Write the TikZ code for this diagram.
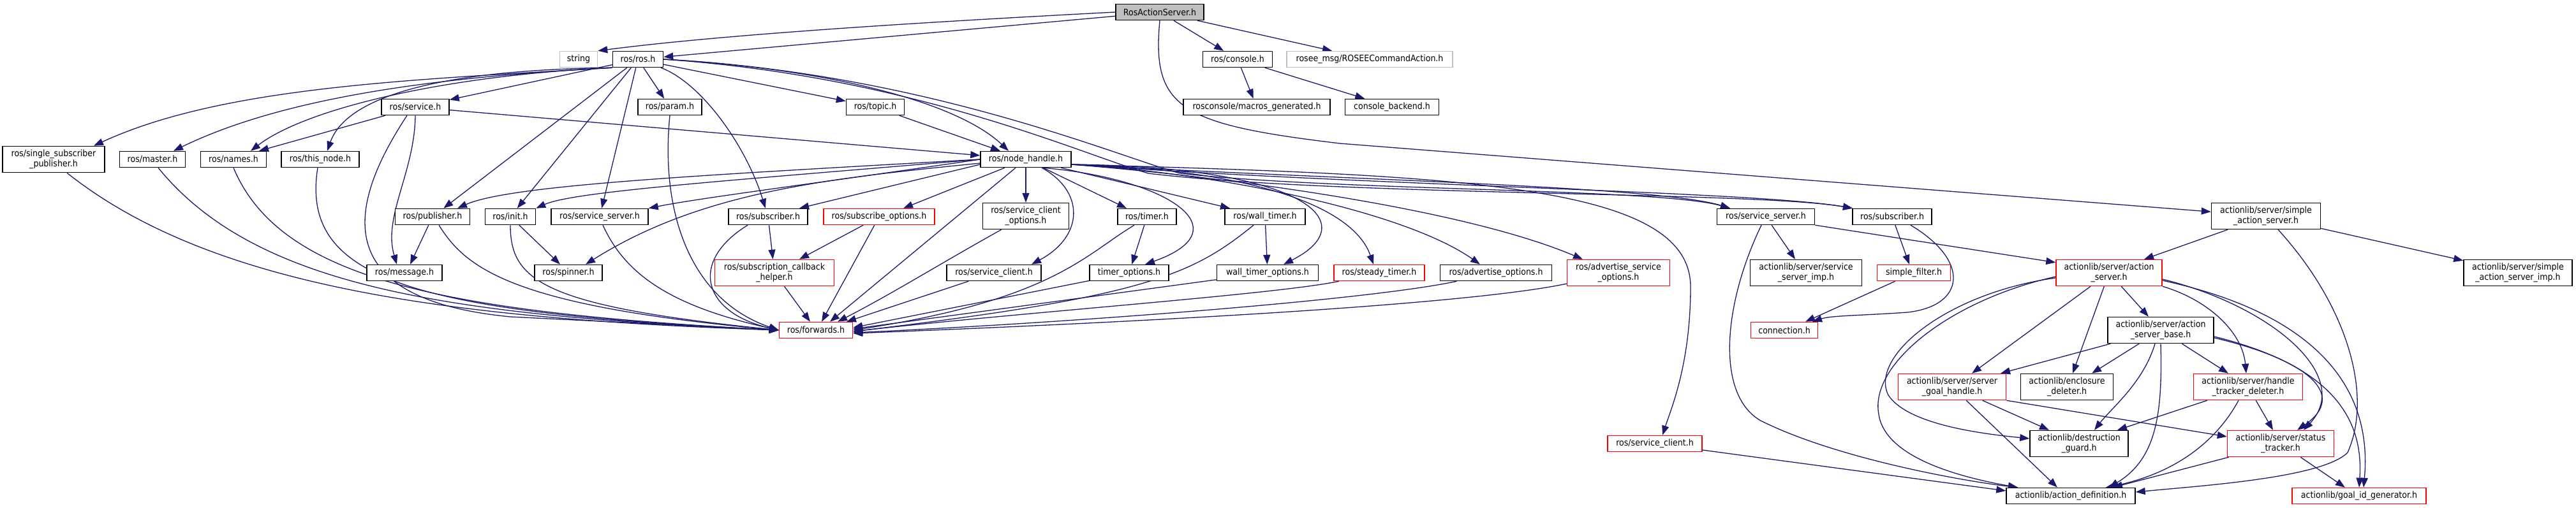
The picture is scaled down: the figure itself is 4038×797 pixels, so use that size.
\documentclass[tikz,border=0pt]{standalone}
\usepackage{fontspec}
\setmainfont{DejaVu Sans}[FakeStretch=0.9]
\usetikzlibrary{arrows.meta}
\pgfdeclarelayer{bg}
\pgfdeclarelayer{edges}
\pgfsetlayers{bg,edges,main}
\definecolor{edgec}{HTML}{191970}
\definecolor{truncc}{HTML}{FF0000}
\definecolor{extc}{HTML}{BFBFBF}
\definecolor{rootfill}{HTML}{BFBFBF}
\begin{document}
\begin{tikzpicture}[x=1pt,y=-1pt,
  nbox/.style={draw=black, line width=1.5pt, fill=white, minimum height=25pt, inner xsep=2pt, inner ysep=0pt, font=\fontsize{14}{15.5}\selectfont, align=center},
  twoline/.style={minimum height=41pt},
  trunc/.style={draw=truncc},
  ext/.style={draw=extc},
  rootbox/.style={fill=rootfill},
  arr/.style={draw=edgec, line width=1.3pt, -{Triangle[length=15pt,width=11pt]}}
]
\begin{pgfonlayer}{bg}
\fill[white] (0,0) rectangle (4038,797);
\end{pgfonlayer}
\useasboundingbox (0,0) rectangle (4038,797);

% nodes
\node[nbox, rootbox, minimum width=138pt] (ras) at (1818,19) {RosActionServer.h};
\node[nbox, ext, minimum width=59pt] (string) at (907,93) {string};
\node[nbox, minimum width=79pt] (rosh) at (1000,93) {ros/ros.h};
\node[nbox, minimum width=109pt] (console) at (1940,93) {ros/console.h};
\node[nbox, ext, minimum width=260pt] (rosee) at (2147,93) {rosee\_msg/ROSEECommandAction.h};
\node[nbox, minimum width=106pt] (service) at (651,168) {ros/service.h};
\node[nbox, minimum width=100pt] (param) at (1050,168) {ros/param.h};
\node[nbox, minimum width=91pt] (topic) at (1372,168) {ros/topic.h};
\node[nbox, minimum width=230pt] (macros) at (1970,168) {rosconsole/macros\_generated.h};
\node[nbox, minimum width=147pt] (backend) at (2182,168) {console\_backend.h};
\node[nbox, twoline, minimum width=160pt] (ssp) at (84,250) {ros/single\_subscriber\\\_publisher.h};
\node[nbox, minimum width=103pt] (master) at (239,250) {ros/master.h};
\node[nbox, minimum width=103pt] (names) at (366,250) {ros/names.h};
\node[nbox, minimum width=122pt] (thisnode) at (502,250) {ros/this\_node.h};
\node[nbox, minimum width=142pt] (nh) at (1608,250) {ros/node\_handle.h};
\node[nbox, minimum width=117pt] (pub) at (678,340) {ros/publisher.h};
\node[nbox, minimum width=79pt] (init) at (800,340) {ros/init.h};
\node[nbox, minimum width=152pt] (ss1) at (940,340) {ros/service\_server.h};
\node[nbox, minimum width=124pt] (sub1) at (1204,340) {ros/subscriber.h};
\node[nbox, trunc, minimum width=174pt] (subopt) at (1378,340) {ros/subscribe\_options.h};
\node[nbox, twoline, minimum width=135pt] (sco) at (1608,339) {ros/service\_client\\\_options.h};
\node[nbox, minimum width=92pt] (timer) at (1798,340) {ros/timer.h};
\node[nbox, minimum width=126pt] (walltimer) at (1983,340) {ros/wall\_timer.h};
\node[nbox, minimum width=153pt] (ss2) at (2768,340) {ros/service\_server.h};
\node[nbox, minimum width=124pt] (sub2) at (2966,340) {ros/subscriber.h};
\node[nbox, twoline, minimum width=171pt] (sas) at (3552,339) {actionlib/server/simple\\\_action\_server.h};
\node[nbox, minimum width=118pt] (message) at (634,428) {ros/message.h};
\node[nbox, minimum width=106pt] (spinner) at (891,428) {ros/spinner.h};
\node[nbox, trunc, twoline, minimum width=187pt] (sch) at (1214,428) {ros/subscription\_callback\\\_helper.h};
\node[nbox, minimum width=148pt] (sc1) at (1558,428) {ros/service\_client.h};
\node[nbox, minimum width=124pt] (timeropt) at (1770,428) {timer\_options.h};
\node[nbox, minimum width=159pt] (walltimeropt) at (1987,428) {wall\_timer\_options.h};
\node[nbox, trunc, minimum width=142pt] (steady) at (2162,428) {ros/steady\_timer.h};
\node[nbox, minimum width=175pt] (advopt) at (2345,428) {ros/advertise\_options.h};
\node[nbox, trunc, twoline, minimum width=161pt] (advsrvopt) at (2537,428) {ros/advertise\_service\\\_options.h};
\node[nbox, twoline, minimum width=175pt] (ssimp) at (2831,428) {actionlib/server/service\\\_server\_imp.h};
\node[nbox, trunc, minimum width=115pt] (sfilter) at (3000,428) {simple\_filter.h};
\node[nbox, trunc, twoline, minimum width=166pt] (as) at (3306,428) {actionlib/server/action\\\_server.h};
\node[nbox, twoline, minimum width=170pt] (sasimp) at (3947,428) {actionlib/server/simple\\\_action\_server\_imp.h};
\node[nbox, trunc, minimum width=115pt] (fwd) at (1279,518) {ros/forwards.h};
\node[nbox, trunc, minimum width=105pt] (conn) at (2797,518) {connection.h};
\node[nbox, twoline, minimum width=166pt] (asb) at (3387,518) {actionlib/server/action\\\_server\_base.h};
\node[nbox, trunc, twoline, minimum width=169pt] (sgh) at (3060,607) {actionlib/server/server\\\_goal\_handle.h};
\node[nbox, twoline, minimum width=145pt] (encl) at (3240,607) {actionlib/enclosure\\\_deleter.h};
\node[nbox, trunc, twoline, minimum width=171pt] (htd) at (3524,607) {actionlib/server/handle\\\_tracker\_deleter.h};
\node[nbox, trunc, minimum width=148pt] (sc2) at (2594,696) {ros/service\_client.h};
\node[nbox, twoline, minimum width=154pt] (dguard) at (3259,696) {actionlib/destruction\\\_guard.h};
\node[nbox, trunc, twoline, minimum width=167pt] (stt) at (3575,696) {actionlib/server/status\\\_tracker.h};
\node[nbox, minimum width=202pt] (adef) at (3246,778) {actionlib/action\_definition.h};
\node[nbox, trunc, minimum width=210pt] (gid) at (3698,778) {actionlib/goal\_id\_generator.h};

\begin{pgfonlayer}{edges}
% RosActionServer.h
\draw[arr] (ras.west) .. controls (1500,32) and (1150,52) .. (string.north east);
\draw[arr] (ras) -- (rosh);
\draw[arr] (ras) -- (console);
\draw[arr] (ras) -- (rosee);
\draw[arr] (ras.south) .. controls (1805,170) and (1850,195) .. (2100,225) -- (sas);
% ros/ros.h
\draw[arr] (rosh) -- (service);
\draw[arr] (rosh.south west) .. controls (650,125) and (350,135) .. ([xshift=63pt]ssp.north);
\draw[arr] (rosh.south west) .. controls (700,120) and (450,150) .. ([xshift=33pt]master.north);
\draw[arr] (rosh.south west) .. controls (700,118) and (480,170) .. ([xshift=27pt]names.north);
\draw[arr] (rosh.south west) .. controls (660,110) and (540,160) .. ([xshift=11pt]thisnode.north);
\draw[arr] (rosh) -- (pub);
\draw[arr] (rosh) -- (init);
\draw[arr] (rosh) -- (ss1);
\draw[arr] (rosh) -- (param);
\draw[arr] (rosh) .. controls (1100,130) and (1170,230) .. (sub1);
\draw[arr] (rosh) -- (topic);
\draw[arr] (rosh.east) .. controls (1300,108) and (1500,160) .. ([xshift=-27pt]nh.north);
\draw[arr] (rosh.east) .. controls (1450,115) and (1750,245) .. (1850,272) .. controls (2100,300) and (2600,295) .. ([xshift=-56pt]ss2.north);
\draw[arr] (rosh.east) .. controls (1430,120) and (1690,240) .. (1800,272) .. controls (2100,308) and (2750,300) .. ([xshift=-62pt]sub2.north);
% ros/service.h
\draw[arr] (service) -- ([xshift=40pt]names.north);
\draw[arr] (service) -- (nh);
\draw[arr] (service.south) .. controls (650,270) and (600,340) .. ([xshift=-12pt]message.north);
\draw[arr] ([xshift=-13pt]service.south) .. controls (540,330) and (520,470) .. (800,497) -- (fwd.west);
% left column into forwards
\draw[arr] ([xshift=21pt]ssp.south) .. controls (330,450) and (700,500) .. (fwd.west);
\draw[arr] ([xshift=9pt]master.south) .. controls (400,450) and (700,495) .. (fwd.west);
\draw[arr] (names.south) .. controls (440,440) and (700,490) .. (fwd.west);
\draw[arr] ([xshift=-4pt]thisnode.south) .. controls (470,440) and (650,490) .. (fwd.west);
\draw[arr] (pub) -- ([xshift=9pt]message.north);
\draw[arr] ([xshift=10pt]pub.south) .. controls (730,420) and (800,480) .. (fwd.west);
\draw[arr] (init.south) .. controls (800,440) and (850,480) .. (fwd.west);
\draw[arr] (init) -- ([xshift=-13pt]spinner.north);
\draw[arr] ([xshift=5pt]ss1.south) .. controls (980,430) and (1050,480) .. (fwd.west);
\draw[arr] ([xshift=-32pt]sub1.south) .. controls (1080,410) and (1100,490) .. (fwd.west);
\draw[arr] (sub1) -- (sch);
\draw[arr] (param.south) .. controls (1035,330) and (1080,470) .. (fwd.west);
\draw[arr] (topic) -- ([xshift=-40pt]nh.north);
% ros/node_handle.h
\draw[arr] (nh.west) .. controls (1100,275) and (800,290) .. ([xshift=39pt]pub.north);
\draw[arr] (nh.west) .. controls (1150,283) and (900,300) .. (init.north east);
\draw[arr] (nh.west) .. controls (1300,285) and (1100,310) .. (ss1.north east);
\draw[arr] ([yshift=-8pt]nh.west) -- ([xshift=49pt]sub1.north);
\draw[arr] ([yshift=-6pt]nh.west) .. controls (1300,280) and (1100,300) .. ([xshift=27pt]spinner.north);
\draw[arr] (nh) -- ([xshift=38pt]subopt.north);
\draw[arr] (nh) -- ([xshift=22pt]fwd.north);
\draw[arr] (nh) -- (sco);
\draw[arr] ([xshift=25pt]nh.south) .. controls (1700,300) and (1700,370) .. ([xshift=59pt]sc1.north);
\draw[arr] (nh) -- ([xshift=-32pt]timer.north);
\draw[arr] ([xshift=27pt]nh.south) .. controls (1830,280) and (1950,360) .. ([xshift=25pt]timeropt.north);
\draw[arr] (nh) -- ([xshift=-55pt]walltimer.north);
\draw[arr] ([yshift=-8pt]nh.east) .. controls (2050,262) and (2140,350) .. ([xshift=25pt]walltimeropt.north);
\draw[arr] ([yshift=-8pt]nh.east) .. controls (1950,265) and (2120,320) .. ([xshift=-9pt]steady.north);
\draw[arr] ([yshift=-8pt]nh.east) .. controls (1900,270) and (2200,330) .. ([xshift=-25pt]advopt.north);
\draw[arr] ([yshift=-8pt]nh.east) .. controls (1950,280) and (2300,330) .. ([xshift=-56pt]advsrvopt.north);
\draw[arr] ([yshift=-8pt]nh.east) .. controls (2300,275) and (2650,290) .. (2650,450) .. controls (2650,570) and (2620,640) .. ([xshift=12pt]sc2.north);
\draw[arr] ([yshift=-8pt]nh.east) .. controls (2100,282) and (2600,292) .. ([xshift=-56pt]ss2.north);
\draw[arr] ([yshift=-8pt]nh.east) .. controls (2150,292) and (2750,300) .. ([xshift=-62pt]sub2.north);
% into forwards from the middle
\draw[arr] (subopt) -- ([xshift=39pt]sch.north);
\draw[arr] (subopt) -- ([xshift=9pt]fwd.north);
\draw[arr] (sch) -- ([xshift=-9pt]fwd.north);
\draw[arr] (sco) .. controls (1480,410) and (1400,460) .. ([xshift=34pt]fwd.north);
\draw[arr] (sc1) -- ([xshift=48pt]fwd.north);
\draw[arr] ([xshift=-20pt]timer.south) .. controls (1700,400) and (1650,470) .. (fwd.east);
\draw[arr] (timer) -- (timeropt);
\draw[arr] (timeropt) -- ([yshift=4pt]fwd.east);
\draw[arr] ([xshift=-18pt]walltimer.south) .. controls (1870,430) and (1800,465) .. ([yshift=-2pt]fwd.east);
\draw[arr] (walltimer) -- (walltimeropt);
\draw[arr] (walltimeropt) -- ([yshift=2pt]fwd.east);
\draw[arr] (steady) .. controls (2000,462) and (1600,490) .. ([yshift=-2pt]fwd.east);
\draw[arr] (advopt) .. controls (2150,470) and (1700,505) .. ([yshift=-4pt]fwd.east);
\draw[arr] (advsrvopt) .. controls (2300,478) and (1800,505) .. ([yshift=-5pt]fwd.east);
% console
\draw[arr] (console) -- (macros);
\draw[arr] (console) -- (backend);
% right part
\draw[arr] (ss2) -- ([xshift=-17pt]ssimp.north);
\draw[arr] ([xshift=-7pt]ss2.south) .. controls (2700,480) and (2690,620) .. (2760,660) .. controls (2880,720) and (3080,755) .. ([xshift=-83pt]adef.north);
\draw[arr] (ss2.south east) -- ([yshift=-5pt]as.north west);
\draw[arr] (sub2) -- ([xshift=-7pt]sfilter.north);
\draw[arr] ([xshift=29pt]sub2.south) .. controls (3090,410) and (3080,480) .. (2990,490) .. controls (2920,495) and (2870,495) .. ([xshift=44pt]conn.north);
\draw[arr] (sfilter) -- ([xshift=33pt]conn.north);
\draw[arr] (sas) -- ([xshift=55pt]as.north);
\draw[arr] (sas) -- (sasimp);
\draw[arr] ([xshift=19pt]sas.south) .. controls (3680,480) and (3720,620) .. (3680,710) .. controls (3640,750) and (3450,762) .. ([yshift=6pt]adef.east);
\draw[arr] (sc2) -- ([yshift=8pt]adef.west);
% action_server.h
\draw[arr] (as) -- ([xshift=-19pt]asb.north);
\draw[arr] (as) -- ([xshift=31pt]sgh.north);
\draw[arr] (as) -- ([xshift=9pt]encl.north);
\draw[arr] ([yshift=-8pt]as.west) .. controls (3050,460) and (2930,560) .. (2960,620) .. controls (2990,665) and (3100,680) .. ([yshift=8pt]dguard.west);
\draw[arr] ([yshift=-6pt]as.west) .. controls (3060,470) and (2930,570) .. (2945,650) .. controls (2955,720) and (3080,750) .. ([xshift=-83pt]adef.north);
\draw[arr] (as.south east) .. controls (3460,470) and (3515,520) .. ([xshift=-3pt]htd.north);
\draw[arr] ([yshift=-10pt]as.east) .. controls (3560,480) and (3690,590) .. ([xshift=36pt]stt.north);
\draw[arr] ([yshift=-12pt]as.east) .. controls (3620,490) and (3720,600) .. ([xshift=7pt]gid.north);
% action_server_base.h
\draw[arr] (asb) -- ([xshift=76pt]sgh.north);
\draw[arr] (asb) -- ([xshift=39pt]encl.north);
\draw[arr] ([xshift=-9pt]asb.south) .. controls (3360,600) and (3310,640) .. ([xshift=24pt]dguard.north);
\draw[arr] (asb.south) .. controls (3390,650) and (3380,720) .. ([xshift=60pt]adef.north);
\draw[arr] (asb) -- ([xshift=-31pt]htd.north);
\draw[arr] ([yshift=-12pt]asb.east) .. controls (3620,565) and (3680,620) .. ([xshift=26pt]stt.north);
\draw[arr] ([yshift=-10pt]asb.east) .. controls (3660,575) and (3705,660) .. (gid.north);
% server_goal_handle.h
\draw[arr] (sgh) -- ([xshift=-47pt]dguard.north);
\draw[arr] (sgh) -- ([xshift=-21pt]adef.north);
\draw[arr] (sgh.south east) -- ([yshift=11pt]stt.west);
% handle_tracker_deleter.h
\draw[arr] (htd) -- ([xshift=60pt]dguard.north);
\draw[arr] ([xshift=-15pt]htd.south) .. controls (3470,700) and (3400,745) .. ([xshift=55pt]adef.north);
\draw[arr] (htd) -- ([xshift=-12pt]stt.north);
% status_tracker.h
\draw[arr] (stt) -- ([xshift=66pt]adef.north);
\draw[arr] (stt) -- ([xshift=-22pt]gid.north);
\end{pgfonlayer}
\end{tikzpicture}
\end{document}
